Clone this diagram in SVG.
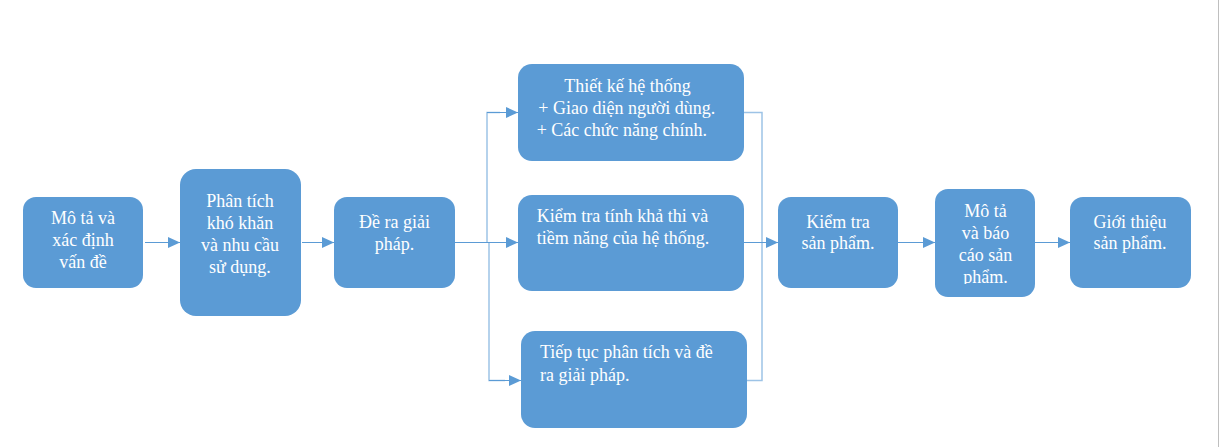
<svg xmlns="http://www.w3.org/2000/svg" width="1219" height="447" viewBox="0 0 1219 447">
<style>
.box{fill:#5B9BD5;}
.t{font-family:"Liberation Serif","Times New Roman",serif;font-size:18px;fill:#FFFFFF;}
.c{text-anchor:middle;}
.ln{fill:none;stroke:#5B9BD5;stroke-width:1;}
.lv{fill:none;stroke:#9DC3E6;stroke-width:1.5;}
</style>
<defs>
<marker id="ah" markerUnits="userSpaceOnUse" markerWidth="13" markerHeight="12" refX="12" refY="6" orient="auto">
<path d="M0,0.5 L12,6 L0,11.5 z" fill="#5B9BD5"/>
</marker>
<clipPath id="clip8"><rect x="935" y="189" width="100" height="95"/></clipPath>
</defs>
<rect width="1219" height="447" fill="#FFFFFF"/>
<line x1="1218.5" y1="0" x2="1218.5" y2="447" stroke="#BFBFBF" stroke-width="1"/>

<g id="connectors">
<line class="ln" x1="145" y1="242.5" x2="180" y2="242.5" marker-end="url(#ah)"/>
<line class="ln" x1="302" y1="242.5" x2="334" y2="242.5" marker-end="url(#ah)"/>
<line class="ln" x1="455" y1="242.5" x2="518" y2="242.5" marker-end="url(#ah)"/>
<polyline class="lv" points="487,242 487,112.5 500,112.5"/>
<line class="ln" x1="487" y1="112.5" x2="518" y2="112.5" marker-end="url(#ah)"/>
<polyline class="lv" points="489,243 489,380.5 505,380.5"/>
<line class="ln" x1="489" y1="380.5" x2="521" y2="380.5" marker-end="url(#ah)"/>
<polyline class="lv" points="744,112.5 762,112.5 762,380.5 747,380.5"/>
<line class="ln" x1="744" y1="242.5" x2="778" y2="242.5" marker-end="url(#ah)"/>
<line class="ln" x1="898" y1="242.5" x2="935" y2="242.5" marker-end="url(#ah)"/>
<line class="ln" x1="1035" y1="242.5" x2="1070" y2="242.5" marker-end="url(#ah)"/>
</g>

<g id="node1">
<rect class="box" x="23" y="197" width="120" height="91" rx="13"/>
<text class="t c" x="83" y="224">Mô tả và</text>
<text class="t c" x="83" y="246">xác định</text>
<text class="t c" x="83" y="268">vấn đề</text>
</g>
<g id="node2">
<rect class="box" x="180" y="169" width="121" height="147" rx="16"/>
<text class="t c" x="240" y="207">Phân tích</text>
<text class="t c" x="240" y="229">khó khăn</text>
<text class="t c" x="240" y="251">và nhu cầu</text>
<text class="t c" x="240" y="273">sử dụng.</text>
</g>
<g id="node3">
<rect class="box" x="334" y="197" width="121" height="91" rx="13"/>
<text class="t c" x="394.5" y="228">Đề ra giải</text>
<text class="t c" x="394.5" y="250">pháp.</text>
</g>
<g id="node4">
<rect class="box" x="518" y="64" width="226" height="97" rx="14"/>
<text class="t" x="564.3" y="92">Thiết kế hệ thống</text>
<text class="t" x="538.3" y="114">+ Giao diện người dùng.</text>
<text class="t" x="536.7" y="136">+ Các chức năng chính.</text>
</g>
<g id="node5">
<rect class="box" x="518" y="195" width="226" height="96" rx="14"/>
<text class="t" x="536.7" y="222">Kiểm tra tính khả thi và</text>
<text class="t" x="536.7" y="244">tiềm năng của hệ thống.</text>
</g>
<g id="node6">
<rect class="box" x="521" y="331" width="226" height="97" rx="14"/>
<text class="t" x="540" y="358">Tiếp tục phân tích và đề</text>
<text class="t" x="540" y="381">ra giải pháp.</text>
</g>
<g id="node7">
<rect class="box" x="778" y="197" width="120" height="91" rx="13"/>
<text class="t c" x="838" y="228">Kiểm tra</text>
<text class="t c" x="838" y="249">sản phẩm.</text>
</g>
<g id="node8">
<rect class="box" x="935" y="189" width="100" height="108" rx="13"/>
<g clip-path="url(#clip8)">
<text class="t c" x="985.5" y="217">Mô tả</text>
<text class="t c" x="985.5" y="239">và báo</text>
<text class="t c" x="985.5" y="261">cáo sản</text>
<text class="t c" x="985.5" y="283">phẩm.</text>
</g>
</g>
<g id="node9">
<rect class="box" x="1070" y="197" width="121" height="91" rx="13"/>
<text class="t c" x="1130" y="228">Giới thiệu</text>
<text class="t c" x="1130" y="249">sản phẩm.</text>
</g>
</svg>
